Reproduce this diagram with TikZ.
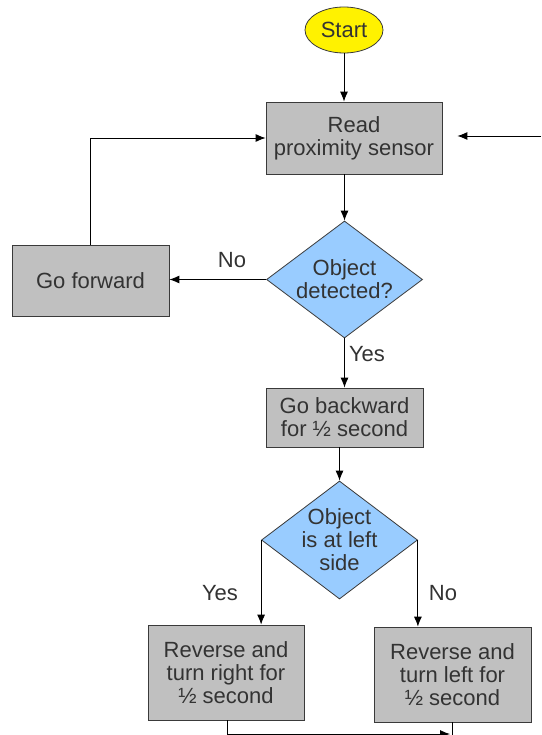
\documentclass[tikz,border=0pt]{standalone}
\usepackage{fontspec}
\setmainfont{Liberation Sans}
\usetikzlibrary{shapes.geometric,arrows.meta}
\definecolor{boxgray}{HTML}{C0C0C0}
\definecolor{dblue}{HTML}{99CCFF}
\definecolor{txt}{HTML}{333333}
\definecolor{edgec}{HTML}{3A3A3A}
\begin{document}
\begin{tikzpicture}[x=1pt,y=-1pt,
  font=\fontsize{22}{23}\selectfont,
  proc/.style={rectangle,draw=edgec,fill=boxgray,text=txt,align=center,inner sep=0pt,line width=0.8pt},
  dec/.style={diamond,draw=edgec,fill=dblue,inner sep=0pt,line width=0.8pt},
  dectext/.style={text=txt,align=center,inner sep=0pt},
  term/.style={ellipse,draw=edgec,fill=yellow,text=txt,inner sep=0pt,line width=0.8pt},
  lbl/.style={text=txt,inner sep=0pt},
  arr/.style={-{Latex[length=10pt,width=8pt]},line width=0.9pt,black},
  ln/.style={line width=0.9pt,black}]
\useasboundingbox[fill=white] (0,0) rectangle (541,735);

% nodes
\node[term,minimum width=78pt,minimum height=46pt] (start) at (344,30) {Start};
\node[proc,minimum width=176pt,minimum height=72pt] (read) at (354,138) {Read\\proximity sensor};
\node[proc,minimum width=157pt,minimum height=71pt] (fwd) at (90.5,280.5) {Go forward};
\node[dec,minimum width=156pt,minimum height=117pt] (det) at (344.5,279.5) {};
\node[dectext] (dett) at (det.center) {Object\\detected?};
\node[proc,minimum width=157pt,minimum height=59pt] (back) at (344.5,417.5) {Go backward\\for ½ second};
\node[dec,minimum width=156pt,minimum height=118pt] (side) at (339.5,540) {};
\node[dectext] (sidet) at (side.center) {Object\\is at left\\side};
\node[proc,minimum width=156pt,minimum height=95pt] (rr) at (226,672.5) {Reverse and\\turn right for\\½ second};
\node[proc,minimum width=157pt,minimum height=95pt] (rl) at (452.5,674.5) {Reverse and\\turn left for\\½ second};

% labels
\node[lbl] (lno1) at (232,260) {No};
\node[lbl] (lyes1) at (367,354) {Yes};
\node[lbl] (lyes2) at (220,593) {Yes};
\node[lbl] (lno2) at (443,593) {No};

% free ends
\coordinate (rin) at (541,136);
\coordinate (bl) at (227,734);
\coordinate (bend) at (450,734);
\coordinate (rout) at (452.5,740);

% connectors
\draw[arr] (start.south) -- (start.south |- read.north);
\draw[arr] (det.north |- read.south) -- (det.north);
\draw[arr] (det.west) -- (det.west -| fwd.east);
\draw[arr] (fwd.north) |- (read.west);
\draw[arr] (rin) -- ([xshift=15pt]read.east |- rin);
\draw[arr] (det.south) -- (det.south |- back.north);
\draw[arr] (side.north |- back.south) -- (side.north);
\draw[arr] (side.west) -- (side.west |- rr.north);
\draw[arr] (side.east) -- (side.east |- rl.north);
\draw[arr] (bl |- rr.south) -- (bl) -- (bend);
\draw[ln] (rl.south) -- (rout);
\end{tikzpicture}
\end{document}
